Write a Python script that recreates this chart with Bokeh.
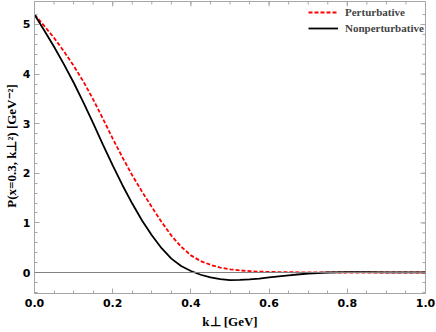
import math
from bokeh.plotting import figure
from bokeh.models import FixedTicker, Span, Legend, LegendItem, Range1d
from bokeh.embed import file_html
from bokeh.resources import INLINE

# ---- data ----
k_perp = [0.000, 0.025, 0.050, 0.075, 0.100, 0.125, 0.150, 0.175, 0.200,
          0.225, 0.250, 0.275, 0.300, 0.325, 0.350, 0.375, 0.400, 0.425,
          0.450, 0.475, 0.500, 0.525, 0.550, 0.575, 0.600, 0.650, 0.700,
          0.750, 0.800, 0.850, 0.900, 0.950, 1.000]
perturbative = [5.20, 4.97, 4.73, 4.46, 4.17, 3.85, 3.49, 3.10, 2.70,
                2.32, 1.96, 1.63, 1.32, 1.02, 0.745, 0.52, 0.345, 0.23,
                0.155, 0.10, 0.065, 0.043, 0.028, 0.018, 0.012, 0.006,
                0.003, 0.0015, 0.0005, 0.0, 0.0, 0.0, 0.0]
nonperturbative = [5.20, 4.88, 4.55, 4.20, 3.83, 3.43, 3.01, 2.58, 2.16,
                   1.76, 1.39, 1.05, 0.75, 0.49, 0.28, 0.13, 0.03, -0.045,
                   -0.10, -0.135, -0.152, -0.150, -0.140, -0.123, -0.100,
                   -0.058, -0.020, 0.000, 0.006, 0.006, 0.004, 0.002,
                   0.001]

x_ticks = [0.0, 0.2, 0.4, 0.6, 0.8, 1.0]
x_tick_labels = ["0.0", "0.2", "0.4", "0.6", "0.8", "1.0"]
x_minor = [i * 0.05 for i in range(21)]
y_ticks = [0, 1, 2, 3, 4, 5]
y_tick_labels = ["0", "1", "2", "3", "4", "5"]
y_minor = [round(-0.4 + i * 0.2, 2) for i in range(29)]

series_names = ["Perturbative", "Nonperturbative"]
x_label = "k\u22a5 [GeV]"
y_label = "P(x=0.3, k\u22a5\u00b2) [GeV\u207b\u00b2]"

X_LIM = (0.0, 1.0)
Y_LIM = (-0.423, 5.463)
FRAME = "#a6a6a6"

p = figure(width=436, height=332, x_range=Range1d(*X_LIM),
           y_range=Range1d(*Y_LIM), output_backend="svg",
           toolbar_location=None, min_border_left=32, min_border_right=11,
           min_border_top=1, min_border_bottom=39)
p.xgrid.visible = False
p.ygrid.visible = False
p.outline_line_color = FRAME
p.background_fill_color = "white"
p.border_fill_color = "white"

zero = Span(location=0, dimension="width", line_color="#808080",
            line_width=1)
p.add_layout(zero)

r1 = p.line(k_perp, perturbative, line_color="#ff0000", line_width=1.8,
            line_dash="4 2")
r2 = p.line(k_perp, nonperturbative, line_color="black", line_width=1.8)

# mirrored inward ticks on top and right edges (outer half clipped by frame)
p.scatter(x=x_ticks, y=[Y_LIM[1]] * len(x_ticks), marker="dash",
          angle=math.pi / 2, size=10, line_color=FRAME, line_width=1)
p.scatter(x=x_minor, y=[Y_LIM[1]] * len(x_minor), marker="dash",
          angle=math.pi / 2, size=6, line_color=FRAME, line_width=1)
p.scatter(x=[X_LIM[1]] * len(y_ticks), y=y_ticks, marker="dash",
          size=10, line_color=FRAME, line_width=1)
p.scatter(x=[X_LIM[1]] * len(y_minor), y=y_minor, marker="dash",
          size=6, line_color=FRAME, line_width=1)


def style_axis(ax, ticks, labels, minor):
    ax.ticker = FixedTicker(ticks=ticks, minor_ticks=minor)
    ax.axis_line_color = FRAME
    ax.major_tick_line_color = FRAME
    ax.minor_tick_line_color = FRAME
    ax.major_tick_in = 5
    ax.major_tick_out = 0
    ax.minor_tick_in = 3
    ax.minor_tick_out = 0
    ax.major_label_overrides = {t: l for t, l in zip(ticks, labels)}
    ax.major_label_text_font = "DejaVu Sans"
    ax.major_label_text_font_style = "bold"
    ax.major_label_text_font_size = "11px"
    ax.major_label_text_color = "black"
    ax.axis_label_text_font = "Liberation Serif"
    ax.axis_label_text_font_style = "bold"
    ax.axis_label_text_font_size = "13px"
    ax.axis_label_text_color = "black"


xa = p.xaxis[0]
style_axis(xa, x_ticks, x_tick_labels, x_minor)
xa.major_label_standoff = 5
xa.axis_label_standoff = 4
xa.axis_label = x_label

ya = p.yaxis[0]
style_axis(ya, y_ticks, y_tick_labels, y_minor)
ya.major_label_standoff = 4
ya.axis_label_standoff = 1
ya.axis_label = y_label

legend = Legend(items=[LegendItem(label=series_names[0], renderers=[r1]),
                       LegendItem(label=series_names[1], renderers=[r2])],
                location=(274, 258))
legend.padding = 0
legend.margin = 0
legend.spacing = 2
legend.glyph_width = 30
legend.glyph_height = 14
legend.label_height = 14
legend.label_standoff = 7
legend.border_line_alpha = 0
legend.background_fill_alpha = 0
legend.label_text_font = "Liberation Serif"
legend.label_text_font_style = "bold"
legend.label_text_font_size = "11px"
p.add_layout(legend)

open("out.html", "w").write(file_html(p, INLINE))
